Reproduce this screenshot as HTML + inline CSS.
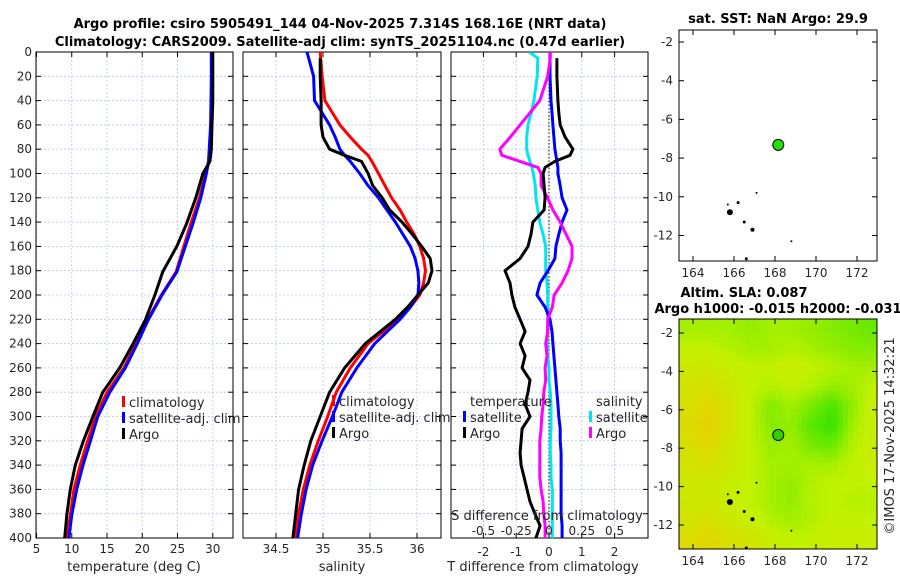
<!DOCTYPE html>
<html><head><meta charset="utf-8">
<style>
html,body{margin:0;padding:0;background:#fff;}
svg{display:block;font-family:"DejaVu Sans","Liberation Sans",sans-serif;}
.tk{font-size:12px;fill:#262626;}
.ttl{font-size:13px;font-weight:bold;fill:#000;}
.lab{font-size:13px;fill:#262626;}
</style></head>
<body>
<svg id="fig" width="900" height="580" viewBox="0 0 900 580" xmlns="http://www.w3.org/2000/svg">
<defs>
<clipPath id="c1"><rect x="36" y="52" width="197" height="486"/></clipPath>
<clipPath id="c2"><rect x="243" y="52" width="198" height="486"/></clipPath>
<clipPath id="c3"><rect x="451" y="52" width="197" height="486"/></clipPath>
<clipPath id="c5"><rect x="679" y="319" width="198" height="230"/></clipPath>
</defs>
<text class="ttl" x="340" y="28" text-anchor="middle">Argo profile: csiro 5905491_144 04-Nov-2025 7.314S 168.16E (NRT data)</text>
<text class="ttl" x="340" y="46" text-anchor="middle">Climatology: CARS2009. Satellite-adj clim: synTS_20251104.nc (0.47d earlier)</text>
<g id="g1"></g>
<g id="g2"></g>
<g id="g3"></g>
<g id="g4"></g>
<g id="g5"></g>
<text class="lab" x="0" y="0" transform="translate(894,436) rotate(-90)" text-anchor="middle">©IMOS 17-Nov-2025 14:32:21</text>
</svg>
<script>
// ---- data ----
const tempDepth=[0,20,40,60,80,90,100,120,141,160,181,200,221,240,260,280,300,321,340,360,381,400];
const tempClim=[29.9,29.9,29.85,29.8,29.6,29.5,29.0,28.1,26.9,25.9,24.8,22.7,20.7,19.1,17.4,15.0,13.4,12.2,11.2,10.3,9.8,9.3];
const tempSat=[29.8,29.8,29.75,29.7,29.5,29.4,29.1,28.3,27.2,26.1,24.9,22.8,20.8,19.3,17.6,15.4,13.7,12.6,11.6,10.7,10.0,9.6];
const tempArgo=[30.0,30.0,30.0,29.9,29.8,29.6,28.6,27.6,26.3,24.9,22.9,21.8,20.4,18.7,16.8,14.4,13.0,11.6,10.5,9.8,9.3,9.0];
const salDepth=[0,20,40,60,70,80,85,90,100,110,120,130,140,150,160,170,180,190,200,210,220,240,260,280,300,320,340,360,380,400];
const salClim=[34.97,34.99,35.02,35.18,35.29,35.41,35.48,35.52,35.59,35.66,35.73,35.82,35.89,35.97,36.03,36.07,36.09,36.07,36.03,35.93,35.80,35.48,35.29,35.14,35.05,34.95,34.86,34.79,34.74,34.71];
const salSat=[34.83,34.90,34.91,35.07,35.13,35.18,35.23,35.29,35.39,35.48,35.59,35.68,35.77,35.85,35.93,35.98,36.01,36.02,36.01,35.93,35.82,35.55,35.36,35.20,35.10,34.99,34.89,34.82,34.77,34.73];
const salArgo=[34.97,34.97,34.98,34.98,35.0,35.07,35.23,35.41,35.48,35.53,35.63,35.71,35.84,35.95,36.05,36.14,36.16,36.12,36.01,35.90,35.77,35.45,35.23,35.07,34.97,34.87,34.80,34.74,34.71,34.68];
const diffDepth=[0,5,20,40,50,60,70,80,85,90,95,100,110,120,130,140,150,160,170,180,190,200,210,220,230,240,250,260,270,280,290,300,310,320,330,340,350,360,370,380,390,400];
const tDiffSat=[0.03,0.03,0.03,0.06,0.09,0.12,0.15,0.18,0.21,0.24,0.27,0.27,0.34,0.40,0.55,0.40,0.30,0.21,0.18,-0.03,-0.27,-0.37,-0.12,0.03,0.09,0.12,0.15,0.18,0.21,0.24,0.27,0.30,0.34,0.34,0.37,0.37,0.37,0.37,0.37,0.37,0.40,0.40];
const tDiffArgo=[0.24,0.24,0.24,0.27,0.30,0.34,0.49,0.73,0.64,0.18,-0.12,-0.18,-0.15,-0.12,-0.15,-0.49,-0.55,-0.64,-0.88,-1.34,-1.19,-1.13,-1.04,-0.88,-0.73,-0.88,-0.73,-0.82,-0.58,-0.64,-0.73,-0.58,-0.82,-0.85,-0.88,-0.85,-0.76,-0.67,-0.58,-0.43,-0.27,-0.40];
const sDiffSat=[-0.150,-0.085,-0.090,-0.115,-0.135,-0.160,-0.170,-0.170,-0.160,-0.145,-0.130,-0.120,-0.105,-0.100,-0.085,-0.070,-0.045,-0.025,-0.025,-0.025,-0.015,-0.010,-0.010,-0.010,-0.010,-0.015,-0.010,0,0,0.010,0.015,0.015,0.015,0.010,0.010,0.015,0.015,0.025,0.025,0.025,0.025,0.025];
const sDiffArgo=[0.010,0.010,-0.010,-0.070,-0.145,-0.220,-0.295,-0.375,-0.360,-0.220,-0.085,-0.060,-0.060,-0.010,0.030,0.085,0.130,0.175,0.175,0.145,0.100,0.040,0.025,-0.010,-0.010,-0.025,-0.015,-0.030,-0.025,-0.040,-0.045,-0.055,-0.060,-0.070,-0.070,-0.070,-0.070,-0.060,-0.045,-0.040,-0.030,-0.030];
const depthTicks=[0,20,40,60,80,100,120,140,160,180,200,220,240,260,280,300,320,340,360,380,400];
const tempTicks=[5,10,15,20,25,30];
const salTicks=[34.5,35,35.5,36];
const tDiffTicks=[-2,-1,0,1,2];
const sDiffTicks=[-0.5,-0.25,0,0.25,0.5];
const lonTicks=[164,166,168,170,172];
const latTicks=[-2,-4,-6,-8,-10,-12];
const argoPos=[168.16,-7.314];
const slaGrid=[
[0.6,0.6,0.6,0.65,0.6,0.6,0.65,0.7,0.75,0.8],
[0.5,0.5,0.55,0.6,0.6,0.55,0.6,0.65,0.7,0.7],
[0.4,0.4,0.45,0.5,0.5,0.45,0.5,0.55,0.6,0.6],
[0.35,0.3,0.4,0.5,0.55,0.5,0.55,0.65,0.6,0.5],
[0.3,0.2,0.35,0.5,0.7,0.6,0.75,0.9,0.65,0.45],
[0.25,0.15,0.35,0.5,0.7,0.65,0.85,0.95,0.6,0.45],
[0.3,0.2,0.4,0.5,0.65,0.6,0.75,0.8,0.55,0.45],
[0.35,0.3,0.4,0.5,0.6,0.6,0.6,0.6,0.5,0.45],
[0.4,0.4,0.45,0.5,0.6,0.65,0.55,0.5,0.5,0.5],
[0.4,0.4,0.45,0.5,0.6,0.65,0.55,0.5,0.55,0.55],
[0.35,0.3,0.4,0.45,0.55,0.6,0.55,0.5,0.5,0.5],
[0.25,0.2,0.3,0.35,0.45,0.5,0.5,0.45,0.45,0.45]];

const NS='http://www.w3.org/2000/svg';
function mk(tag,at,parent){const e=document.createElementNS(NS,tag);for(const k in at)e.setAttribute(k,at[k]);parent.appendChild(e);return e;}
const Y0=52,Y1=538;
const yD=d=>Y0+(d/400)*(Y1-Y0);
function panel(g,x0,x1,xs,ticks,fmt,showY,clip,tickLabY){
  const ggrid=mk('g',{},g);
  
  
  ticks.forEach(t=>{mk('line',{x1:xs(t),x2:xs(t),y1:Y0,y2:Y1,stroke:'#b8c4ee','stroke-width':0.8,'stroke-dasharray':'2,2'},ggrid);});
  depthTicks.forEach(d=>{mk('line',{x1:x0,x2:x1,y1:yD(d),y2:yD(d),stroke:'#b8c4ee','stroke-width':0.8,'stroke-dasharray':'2,2'},ggrid);
    mk('line',{x1:x0,x2:x0+5,y1:yD(d),y2:yD(d),stroke:'#000'},g);mk('line',{x1:x1-5,x2:x1,y1:yD(d),y2:yD(d),stroke:'#000'},g);
    if(showY){const t=mk('text',{class:'tk',x:x0-4,y:yD(d)+4,'text-anchor':'end'},g);t.textContent=d;
      
      }
  });
  ticks.forEach(v=>{mk('line',{x1:xs(v),x2:xs(v),y1:Y1,y2:Y1-5,stroke:'#000'},g);mk('line',{x1:xs(v),x2:xs(v),y1:Y0,y2:Y0+5,stroke:'#000'},g);
    const t=mk('text',{class:'tk',x:xs(v),y:tickLabY,'text-anchor':'middle'},g);t.textContent=fmt(v);
    
    });
  const r=mk('rect',{x:x0,y:Y0,width:x1-x0,height:Y1-Y0,fill:'none',stroke:'#000','stroke-width':1},g);
  
  
}
function line(g,xs,vals,depths,color,clip,name){
  const p=vals.map((v,i)=>(i?'L':'M')+xs(v).toFixed(1)+','+yD(depths[i]).toFixed(1)).join('');
  const e=mk('path',{d:p,fill:'none',stroke:color,'stroke-width':3,'stroke-linejoin':'round','clip-path':'url(#'+clip+')'},g);
  
  
}
function legend(g,x,y,items){
  items.forEach((it,i)=>{
    if(it.c){mk('rect',{x:x,y:y+i*16-6,width:3,height:11,fill:it.c},g);}
    const t=mk('text',{class:'lab',x:x+7,y:y+i*16+5},g);t.textContent=it.t;
    
    
  });
}
// Panel 1
const g1=document.getElementById('g1');
const xT=v=>36.5+(v-5)*7.05;
panel(g1,36,233,xT,tempTicks,v=>v,true,'c1',553);
line(g1,xT,tempClim,tempDepth,'#ff0000','c1','climatology-temp-line');
line(g1,xT,tempSat,tempDepth,'#0000ff','c1','satellite-temp-line');
line(g1,xT,tempArgo,tempDepth,'#000000','c1','argo-temp-line');
legend(g1,122,402,[{c:'#ff0000',t:'climatology'},{c:'#0000ff',t:'satellite-adj. clim'},{c:'#000',t:'Argo'}]);
let t=mk('text',{class:'lab',x:134,y:571,'text-anchor':'middle'},g1);t.textContent='temperature (deg C)';


// Panel 2
const g2=document.getElementById('g2');
const xS=v=>323+(v-35)*94;
panel(g2,243,441,xS,salTicks,v=>v,false,'c2',553);
line(g2,xS,salClim,salDepth,'#ff0000','c2','climatology-salinity-line');
line(g2,xS,salSat,salDepth,'#0000ff','c2','satellite-salinity-line');
line(g2,xS,salArgo,salDepth.map(d=>Math.max(d,5)),'#000000','c2','argo-salinity-line');
legend(g2,332,401,[{c:'#ff0000',t:'climatology'},{c:'#0000ff',t:'satellite-adj. clim'},{c:'#000',t:'Argo'}]);
t=mk('text',{class:'lab',x:342,y:571,'text-anchor':'middle'},g2);t.textContent='salinity';


// Panel 3
const g3=document.getElementById('g3');
const xTd=v=>549+v*32.8;
const xSd=v=>549+v*131.2;
panel(g3,451,648,xTd,tDiffTicks,v=>v,false,'c3',556);
const zl=mk('line',{x1:549,x2:549,y1:Y0,y2:Y1,stroke:'#333','stroke-width':1.2,'stroke-dasharray':'1.5,2'},g3);


line(g3,xSd,sDiffSat,diffDepth,'#00e5ee','c3','satellite-salinity-diff-line');
line(g3,xTd,tDiffSat,diffDepth,'#0000ff','c3','satellite-temp-diff-line');
line(g3,xSd,sDiffArgo,diffDepth,'#ff00ff','c3','argo-salinity-diff-line');
line(g3,xTd,tDiffArgo,diffDepth.map(d=>Math.max(d,5)),'#000000','c3','argo-temp-diff-line');
legend(g3,463,401,[{t:'temperature'},{c:'#0000ff',t:'satellite'},{c:'#000',t:'Argo'}]);
legend(g3,589,401,[{t:'salinity'},{c:'#00e5ee',t:'satellite'},{c:'#ff00ff',t:'Argo'}]);
sDiffTicks.forEach(v=>{const e=mk('text',{class:'tk',x:xSd(v),y:535,'text-anchor':'middle'},g3);e.textContent=v;
  
  });
t=mk('text',{class:'lab',x:547,y:520,'text-anchor':'middle'},g3);t.textContent='S difference from climatology';


t=mk('text',{class:'lab',x:543,y:571,'text-anchor':'middle'},g3);t.textContent='T difference from climatology';


// Maps
const xL=v=>693+(v-164)*20.5;
function mapAxes(g,yTop,yBot,yLat){
  latTicks.forEach(v=>{mk('line',{x1:679,x2:684,y1:yLat(v),y2:yLat(v),stroke:'#000'},g);mk('line',{x1:872,x2:877,y1:yLat(v),y2:yLat(v),stroke:'#000'},g);
    const e=mk('text',{class:'tk',x:673,y:yLat(v)+4,'text-anchor':'end'},g);e.textContent=v;
    
    });
  lonTicks.forEach(v=>{mk('line',{x1:xL(v),x2:xL(v),y1:yTop,y2:yTop+5,stroke:'#000'},g);mk('line',{x1:xL(v),x2:xL(v),y1:yBot-5,y2:yBot,stroke:'#000'},g);
    const e=mk('text',{class:'tk',x:xL(v),y:yBot+16,'text-anchor':'middle'},g);e.textContent=v;
    
    });
  const r=mk('rect',{x:679,y:yTop,width:198,height:yBot-yTop,fill:'none',stroke:'#000'},g);
  
  
}
function islands(g,yLat){
  [[165.8,-10.8,3],[166.2,-10.3,1.5],[165.7,-10.4,1],[166.5,-11.3,1.5],[166.9,-11.7,2],[167.1,-9.8,1],[168.8,-12.3,1],[166.6,-13.2,1.5]].forEach(p=>{
    const e=mk('circle',{cx:xL(p[0]),cy:yLat(p[1]),r:p[2],fill:'#000'},g);
    
    });
}
const g4=document.getElementById('g4');
const yA=v=>42+(-2-v)*19.35;
t=mk('text',{class:'ttl',x:778,y:23,'text-anchor':'middle'},g4);t.textContent='sat. SST: NaN Argo: 29.9';


mapAxes(g4,30,261,yA);
islands(g4,yA);
let dot=mk('circle',{cx:xL(argoPos[0]),cy:yA(argoPos[1]),r:5.5,fill:'#22e000',stroke:'#000','stroke-width':1},g4);


const g5=document.getElementById('g5');
const yB=v=>333+(-2-v)*19.2;
function cmap(v){const a=[245,195,0],b=[195,242,0],c=[40,226,0];let p,q,f;
  v=Math.max(0,Math.min(1,v));
  if(v<0.5){p=a;q=b;f=v/0.5;}else{p=b;q=c;f=(v-0.5)/0.5;}
  return 'rgb('+p.map((x,i)=>Math.round(x+(q[i]-x)*f)).join(',')+')';}
function sampleSla(lon,lat){
  const nr=slaGrid.length,nc=slaGrid[0].length;
  let cx=lon-163.8,cy=-1.8-lat;
  cx=Math.max(0,Math.min(nc-1,cx));cy=Math.max(0,Math.min(nr-1,cy));
  const c0=Math.floor(cx),r0=Math.floor(cy),c1=Math.min(nc-1,c0+1),r1=Math.min(nr-1,r0+1);
  const fx=cx-c0,fy=cy-r0;
  const a=slaGrid[r0][c0]*(1-fx)+slaGrid[r0][c1]*fx;
  const b=slaGrid[r1][c0]*(1-fx)+slaGrid[r1][c1]*fx;
  return a*(1-fy)+b*fy;
}
const heat=mk('g',{'clip-path':'url(#c5)'},g5);


const step=0.25;
for(let lat=-1.25;lat>-13.5;lat-=step){
  for(let lon=163.3;lon<173.4;lon+=step){
    mk('rect',{x:xL(lon).toFixed(1),y:yB(lat).toFixed(1),width:(20.5*step+0.6).toFixed(2),height:(19.2*step+0.6).toFixed(2),fill:cmap(sampleSla(lon+step/2,lat-step/2))},heat);
  }
}
t=mk('text',{class:'ttl',x:744,y:297,'text-anchor':'middle'},g5);t.textContent='Altim. SLA: 0.087';


t=mk('text',{class:'ttl',x:778,y:313,'text-anchor':'middle'},g5);t.textContent='Argo h1000: -0.015 h2000: -0.031';


mapAxes(g5,319,549,yB);
islands(g5,yB);
dot=mk('circle',{cx:xL(argoPos[0]),cy:yB(argoPos[1]),r:5.5,fill:'#30d000',stroke:'#000','stroke-width':1},g5);


</script>
</body></html>
